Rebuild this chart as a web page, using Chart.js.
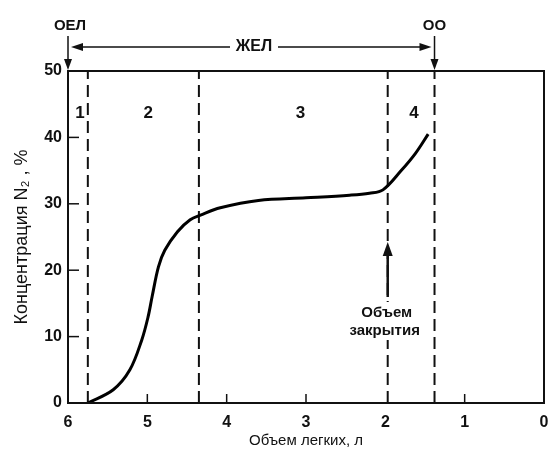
<!DOCTYPE html>
<html lang="ru">
<head>
  <meta charset="UTF-8">
  <title>Вымывание азота</title>
  <script src="https://cdn.jsdelivr.net/npm/chart.js"></script>
  <style>
    body { margin: 0; background: #fff; }
    #wrap { width: 549px; height: 459px; }
  </style>
</head>
<body>
  <div id="wrap"><canvas id="n2Chart" width="549" height="459"></canvas></div>
  <script>
    // curve: lung volume (l) vs N2 concentration (%)
    const volume = [5.75, 5.43, 5.22, 5.07, 4.99, 4.94, 4.86, 4.78, 4.62, 4.46, 4.33, 4.08, 3.6, 3.0, 2.45, 2.2, 2.03, 1.8, 1.62, 1.46];
    const n2Conc = [0, 2.0, 5.0, 9.5, 13.0, 16.0, 20.5, 23.0, 25.8, 27.6, 28.3, 29.4, 30.5, 30.9, 31.3, 31.6, 32.1, 35, 37.6, 40.5];

    // phase borders (dashed lines) and phase numbers
    const phaseBorders = [5.75, 4.35, 1.97, 1.38];
    const phaseNames = ['1', '2', '3', '4'];
    const phaseLabelX = [5.85, 4.99, 3.07, 1.64];
    const phaseLabelY = 43.7;

    const xTicks = [6, 5, 4, 3, 2, 1, 0];
    const yTicks = [0, 10, 20, 30, 40, 50];
    const xInnerTicks = [5, 4, 3, 1];
    const yInnerTicks = [10, 20, 30, 40];

    const closingVolume = 1.97;
    const font = '"Liberation Sans", Arial, sans-serif';

    const borderSets = phaseBorders.map(v => ({
      data: [{ x: v, y: 0 }, { x: v, y: 50 }],
      borderColor: '#111',
      borderWidth: 2,
      borderDash: [12, 6],
      pointRadius: 0,
      showLine: true
    }));

    function arrowHead(ctx, x, y, dir) {
      ctx.beginPath();
      if (dir === 'down') { ctx.moveTo(x, y); ctx.lineTo(x - 4, y - 11); ctx.lineTo(x + 4, y - 11); }
      if (dir === 'up') { ctx.moveTo(x, y); ctx.lineTo(x - 5, y + 14); ctx.lineTo(x + 5, y + 14); }
      if (dir === 'left') { ctx.moveTo(x, y); ctx.lineTo(x + 12, y - 4); ctx.lineTo(x + 12, y + 4); }
      if (dir === 'right') { ctx.moveTo(x, y); ctx.lineTo(x - 12, y - 4); ctx.lineTo(x - 12, y + 4); }
      ctx.closePath();
      ctx.fill();
    }

    const decor = {
      id: 'decor',
      afterDraw(chart) {
        const ctx = chart.ctx;
        const xs = chart.scales.x, ys = chart.scales.y;
        const a = chart.chartArea;
        ctx.save();
        ctx.strokeStyle = '#111';
        ctx.fillStyle = '#111';

        // frame
        ctx.lineWidth = 2;
        ctx.strokeRect(a.left, a.top, a.right - a.left, a.bottom - a.top);

        // inward ticks
        ctx.lineWidth = 1.5;
        xInnerTicks.forEach(v => {
          const px = xs.getPixelForValue(v);
          ctx.beginPath(); ctx.moveTo(px, a.bottom); ctx.lineTo(px, a.bottom - 9); ctx.stroke();
        });
        yInnerTicks.forEach(v => {
          const py = ys.getPixelForValue(v);
          ctx.beginPath(); ctx.moveTo(a.left, py); ctx.lineTo(a.left + 11, py); ctx.stroke();
        });

        // phase numbers
        ctx.font = 'bold 17px ' + font;
        ctx.textAlign = 'center';
        ctx.textBaseline = 'middle';
        phaseNames.forEach((t, i) => {
          ctx.fillText(t, xs.getPixelForValue(phaseLabelX[i]), ys.getPixelForValue(phaseLabelY));
        });

        // top annotations: ОЕЛ, ЖЕЛ, ОО
        const xTlc = xs.getPixelForValue(6);
        const xRv = xs.getPixelForValue(phaseBorders[3]);
        ctx.lineWidth = 1.5;
        ctx.font = 'bold 15px ' + font;
        ctx.fillText('ОЕЛ', xTlc + 2, 26);
        ctx.fillText('ОО', xRv, 26);
        ctx.beginPath(); ctx.moveTo(xTlc, 36); ctx.lineTo(xTlc, 62); ctx.stroke();
        arrowHead(ctx, xTlc, 70, 'down');
        ctx.beginPath(); ctx.moveTo(xRv, 36); ctx.lineTo(xRv, 62); ctx.stroke();
        arrowHead(ctx, xRv, 70, 'down');

        const yArr = 47, midX = 254;
        ctx.font = 'bold 16px ' + font;
        ctx.fillText('ЖЕЛ', midX, yArr);
        ctx.beginPath();
        ctx.moveTo(xTlc + 12, yArr); ctx.lineTo(midX - 24, yArr);
        ctx.moveTo(midX + 24, yArr); ctx.lineTo(xRv - 12, yArr);
        ctx.stroke();
        arrowHead(ctx, xTlc + 3, yArr, 'left');
        arrowHead(ctx, xRv - 3, yArr, 'right');

        // closing volume arrow and label
        const xc = xs.getPixelForValue(closingVolume);
        ctx.fillStyle = '#fff';
        ctx.fillRect(xc - 38, 302, 76, 38);
        ctx.fillStyle = '#111';
        ctx.lineWidth = 2.5;
        ctx.beginPath(); ctx.moveTo(xc, 297); ctx.lineTo(xc, 255); ctx.stroke();
        arrowHead(ctx, xc, 242, 'up');
        ctx.font = 'bold 15px ' + font;
        ctx.fillText('Объем', xc - 1, 313);
        ctx.fillText('закрытия', xc - 3, 331);
        ctx.restore();
      }
    };

    new Chart(document.getElementById('n2Chart'), {
      type: 'scatter',
      data: {
        datasets: [{
          data: volume.map((v, i) => ({ x: v, y: n2Conc[i] })),
          borderColor: '#000',
          borderWidth: 3,
          pointRadius: 0,
          showLine: true,
          tension: 0.35
        }].concat(borderSets)
      },
      options: {
        responsive: false,
        animation: false,
        layout: { padding: { top: 71, right: 5, left: 0, bottom: 0 } },
        plugins: { legend: { display: false }, tooltip: { enabled: false } },
        scales: {
          x: {
            type: 'linear',
            reverse: true,
            min: 0,
            max: 6,
            afterBuildTicks: s => { s.ticks = xTicks.map(v => ({ value: v })); },
            afterFit: s => { s.height = 56; s.paddingLeft = 0; s.paddingRight = 0; },
            grid: { display: false, drawTicks: false },
            border: { display: false },
            ticks: { color: '#111', padding: 10, font: { family: font, size: 16, weight: 'bold' } },
            title: {
              display: true,
              text: 'Объем легких, л',
              color: '#111',
              padding: { top: 0, bottom: 9 },
              font: { family: font, size: 15 }
            }
          },
          y: {
            min: 0,
            max: 50,
            afterBuildTicks: s => { s.ticks = yTicks.map(v => ({ value: v })); },
            afterFit: s => { s.width = 68; },
            grid: { display: false, drawTicks: false },
            border: { display: false },
            ticks: { color: '#111', padding: 6, font: { family: font, size: 16, weight: 'bold' } },
            title: {
              display: true,
              text: 'Концентрация N₂ , %',
              color: '#111',
              padding: { top: 11, bottom: 0 },
              font: { family: font, size: 18 }
            }
          }
        }
      },
      plugins: [decor]
    });
  </script>
</body>
</html>
